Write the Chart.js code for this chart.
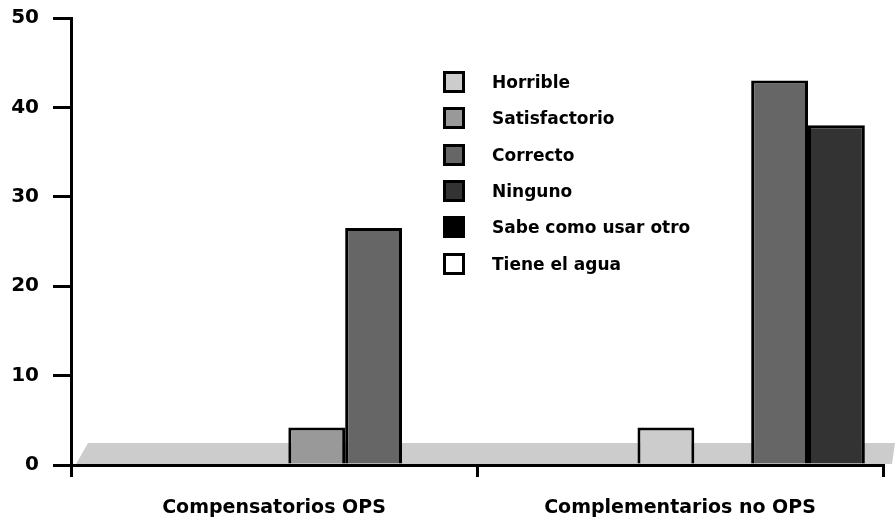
<!DOCTYPE html>
<html>
<head>
<meta charset="utf-8">
<script src="https://cdn.jsdelivr.net/npm/chart.js@4/dist/chart.umd.min.js"></script>
<style>
  html, body { margin: 0; padding: 0; background: #fff; }
  #wrap { position: relative; width: 896px; height: 524px; }
  #legend { position: absolute; left: 443px; top: 64px; font: bold 17px "DejaVu Sans", sans-serif; color: #000; }
  #legend .row { display: flex; align-items: center; height: 36.3px; }
  #legend .box { width: 22px; height: 22px; box-sizing: border-box; border: 3px solid #000; margin-right: 27px; }
</style>
</head>
<body>
<div id="wrap">
  <canvas id="c" width="896" height="524"></canvas>
  <div id="legend"></div>
</div>
<script>
  // categories and series (percent)
  const categories = ['Compensatorios OPS', 'Complementarios no OPS'];
  const seriesNames = ['Horrible', 'Satisfactorio', 'Correcto', 'Ninguno', 'Sabe como usar otro', 'Tiene el agua'];
  const seriesColors = ['#cccccc', '#999999', '#666666', '#333333', '#000000', '#ffffff'];
  const horrible     = [null, 4.2];
  const satisfactorio = [4.2, null];
  const correcto     = [26.5, 43];
  const ninguno      = [null, 38];
  const sabeUsar     = [null, null];
  const tieneAgua    = [null, null];
  const yTicks = [0, 10, 20, 30, 40, 50];

  const seriesValues = [horrible, satisfactorio, correcto, ninguno, sabeUsar, tieneAgua];
  const FONT_X = { family: '"DejaVu Sans", sans-serif', weight: 'bold', size: 19 };
  const FONT_Y = { family: '"DejaVu Sans", sans-serif', weight: 'bold', size: 20 };
  const DEPTH_DX = 128; // 3d depth shift of the columns

  // gray floor + depth shift for the columns
  const floor3d = {
    id: 'floor3d',
    beforeDatasetsDraw(chart) {
      const { ctx, chartArea: a } = chart;
      const b = chart.scales.y.getPixelForValue(0);
      ctx.save();
      ctx.fillStyle = '#cccccc';
      ctx.beginPath();
      ctx.moveTo(a.left + 5, b - 1);
      ctx.lineTo(a.left + 17, b - 22);
      ctx.lineTo(a.right + 12, b - 22);
      ctx.lineTo(a.right + 9, b - 1);
      ctx.closePath();
      ctx.fill();
      ctx.restore();
      ctx.save();
      ctx.translate(DEPTH_DX, 0);
    },
    afterDatasetsDraw(chart) {
      chart.ctx.restore();
    }
  };

  new Chart(document.getElementById('c'), {
    type: 'bar',
    data: {
      labels: categories,
      datasets: seriesNames.map((name, i) => ({
        label: name,
        data: seriesValues[i],
        backgroundColor: seriesColors[i],
        borderColor: '#000',
        borderWidth: 3,
        categoryPercentage: 0.84,
        barPercentage: 1
      }))
    },
    options: {
      responsive: false,
      animation: false,
      layout: { padding: { top: 18, right: 13, left: 0, bottom: 0 } },
      plugins: { legend: { display: false }, tooltip: { enabled: false } },
      scales: {
        x: {
          offset: true,
          grid: { display: true, offset: true, drawOnChartArea: false, tickLength: 12, lineWidth: 3, color: '#000' },
          border: { display: true, width: 3, color: '#000' },
          ticks: { color: '#000', font: FONT_X, padding: 20, maxRotation: 0 },
          afterFit(scale) { scale.height = 59; scale.paddingLeft = 0; scale.paddingRight = 0; }
        },
        y: {
          min: 0, max: 50,
          afterBuildTicks(scale) { scale.ticks = yTicks.map(v => ({ value: v })); },
          grid: { display: true, drawOnChartArea: false, tickLength: 18, lineWidth: 3, color: '#000' },
          border: { display: true, width: 3, color: '#000' },
          ticks: { color: '#000', font: FONT_Y, padding: 14 },
          afterFit(scale) { scale.width = 71; scale.paddingTop = 0; scale.paddingBottom = 0; }
        }
      }
    },
    plugins: [floor3d]
  });

  // legend as html text
  const leg = document.getElementById('legend');
  seriesNames.forEach((name, i) => {
    const row = document.createElement('div');
    row.className = 'row';
    const box = document.createElement('span');
    box.className = 'box';
    box.style.background = seriesColors[i];
    const txt = document.createElement('span');
    txt.textContent = name;
    row.appendChild(box);
    row.appendChild(txt);
    leg.appendChild(row);
  });
</script>
</body>
</html>
